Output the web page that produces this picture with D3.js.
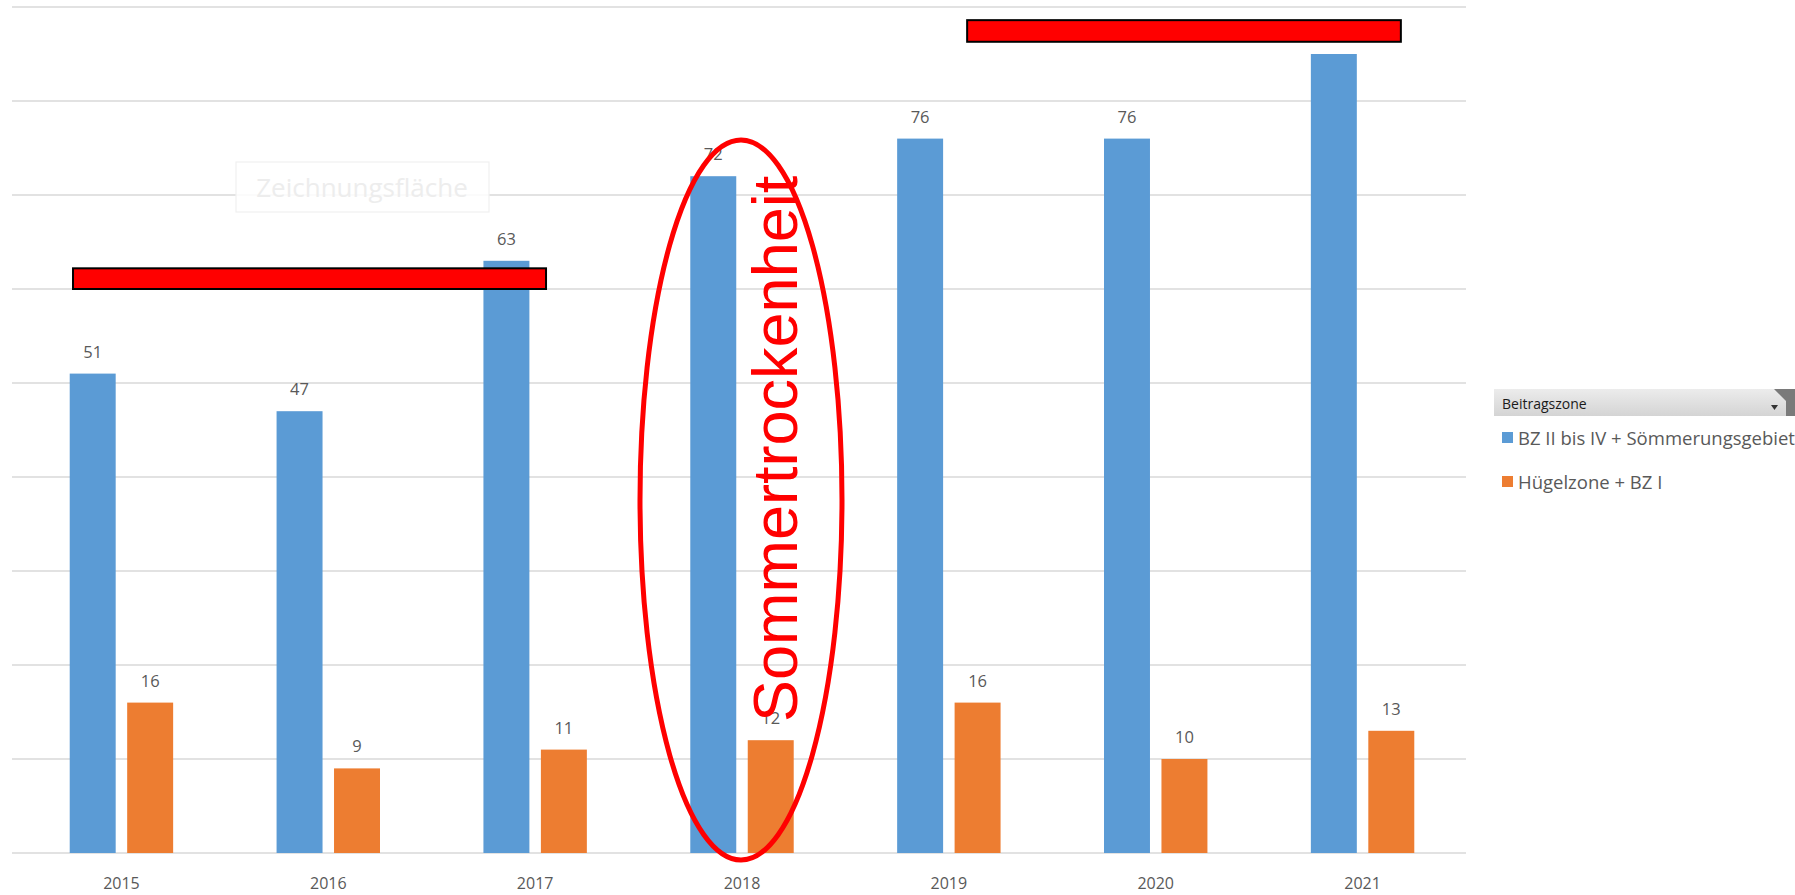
<!DOCTYPE html>
<html><head><meta charset="utf-8">
<script src="https://cdn.jsdelivr.net/npm/d3@7"></script>
<style>html,body{margin:0;padding:0;background:#fff;overflow:hidden}</style>
</head><body>
<svg id="chart" width="1795" height="895"></svg>
<script>
const years = ["2015","2016","2017","2018","2019","2020","2021"];
const seriesNames = ["BZ II bis IV + Sömmerungsgebiet","Hügelzone + BZ I"];
const bzValues = [51,47,63,72,76,76,85];
const huegelValues = [16,9,11,12,16,10,13];
const colors = ["#5B9BD5","#ED7D31"];
const yTicks = [0,10,20,30,40,50,60,70,80,90];
// annotation bars: [fromYear, toYear, lowValue, highValue]
const redBars = [["2015","2017",60,62.2],["2019","2021",86.3,88.6]];
const annotationText = "Sommertrockenheit";
const legendTitle = "Beitragszone";
const ghostLabel = "Zeichnungsfläche";

const svg = d3.select("#chart");
const y = d3.scaleLinear().domain([0,90]).range([853,7]);
const x0 = d3.scaleBand().domain(years).range([18,1466]).paddingInner(0.5).paddingOuter(0.25);
const x1 = d3.scaleBand().domain([0,1]).range([0,x0.bandwidth()]).paddingInner(0.2);

// gridlines
svg.append("g").selectAll("line").data(yTicks).join("line")
  .attr("x1",12).attr("x2",1466)
  .attr("y1",d=>y(d)).attr("y2",d=>y(d))
  .attr("stroke","#d9d9d9").attr("stroke-width",1.5);

// ghost "Zeichnungsfläche" tooltip
const gg = svg.append("g");
gg.append("rect").attr("x",236).attr("y",162).attr("width",253).attr("height",50)
  .attr("fill","#fff").attr("fill-opacity",0.85).attr("stroke","#f0f0f0").attr("stroke-width",1.2);
gg.append("text").attr("x",362).attr("y",197).attr("text-anchor","middle")
  .attr("font-family","Open Sans").attr("font-size",26).attr("fill","#ededed").text(ghostLabel);

// bars
const data = years.map((yr,i)=>({year:yr, vals:[bzValues[i], huegelValues[i]]}));
const groups = svg.append("g").selectAll("g").data(data).join("g")
  .attr("transform",d=>`translate(${x0(d.year)},0)`);
groups.selectAll("rect").data(d=>d.vals.map((v,k)=>({v,k}))).join("rect")
  .attr("x",d=>x1(d.k)).attr("width",x1.bandwidth())
  .attr("y",d=>y(d.v)).attr("height",d=>y(0)-y(d.v))
  .attr("fill",d=>colors[d.k]);
groups.selectAll("text").data(d=>d.vals.map((v,k)=>({v,k}))).join("text")
  .attr("x",d=>x1(d.k)+x1.bandwidth()/2).attr("y",d=>y(d.v)-16)
  .attr("text-anchor","middle").attr("font-family","Open Sans").attr("font-size",16.5)
  .attr("fill","#595959").text(d=>d.v);

// x axis labels
svg.append("g").selectAll("text").data(years).join("text")
  .attr("x",d=>x0(d)+x0.bandwidth()/2).attr("y",889)
  .attr("text-anchor","middle").attr("font-family","Open Sans").attr("font-size",16)
  .attr("fill","#595959").text(d=>d);

// red annotation bars (drawn by hand over the chart)
const startOff = [3.3, 70];
const endOff = [62.6, 90];
svg.append("g").selectAll("rect").data(redBars).join("rect")
  .attr("x",(d,i)=>x0(d[0])+startOff[i])
  .attr("width",(d,i)=>x0(d[1])+endOff[i]-(x0(d[0])+startOff[i]))
  .attr("y",d=>y(d[3])).attr("height",d=>y(d[2])-y(d[3]))
  .attr("fill","#FF0000").attr("stroke","#000").attr("stroke-width",2);

// ellipse around 2018
const cx2018 = x0("2018")+x0.bandwidth()/2;
svg.append("ellipse").attr("cx",cx2018-1).attr("cy",500).attr("rx",101).attr("ry",360)
  .attr("fill","none").attr("stroke","#FF0000").attr("stroke-width",5);
svg.append("text").attr("transform",`translate(797,722) rotate(-90)`)
  .attr("font-family","Liberation Sans").attr("font-size",63).attr("fill","#FF0000")
  .text(annotationText);

// legend
const lg = svg.append("g");
const grad = svg.append("defs").append("linearGradient").attr("id","hdr").attr("x1",0).attr("x2",0).attr("y1",0).attr("y2",1);
grad.append("stop").attr("offset","0%").attr("stop-color","#ececec");
grad.append("stop").attr("offset","100%").attr("stop-color","#d4d4d4");
lg.append("rect").attr("x",1494).attr("y",389).attr("width",301).attr("height",27).attr("fill","url(#hdr)");
lg.append("text").attr("x",1502).attr("y",409).attr("font-family","Open Sans").attr("font-size",14)
  .attr("fill","#1a1a1a").text(legendTitle);
lg.append("path").attr("d","M1771,405 L1778,405 L1774.5,410 Z").attr("fill","#333");
lg.append("path").attr("d","M1774,389 L1795,389 L1795,416 L1786,416 L1786,401 Z").attr("fill","#7a7a7a");
const items = lg.selectAll("g.item").data(seriesNames).join("g").attr("class","item")
  .attr("transform",(d,i)=>`translate(1502,${438+i*44})`);
items.append("rect").attr("x",0).attr("y",-6).attr("width",11).attr("height",11).attr("fill",(d,i)=>colors[i]);
items.append("text").attr("x",16).attr("y",7).attr("font-family","Open Sans").attr("font-size",18.5)
  .attr("fill","#595959").text(d=>d);
</script>
</body></html>
